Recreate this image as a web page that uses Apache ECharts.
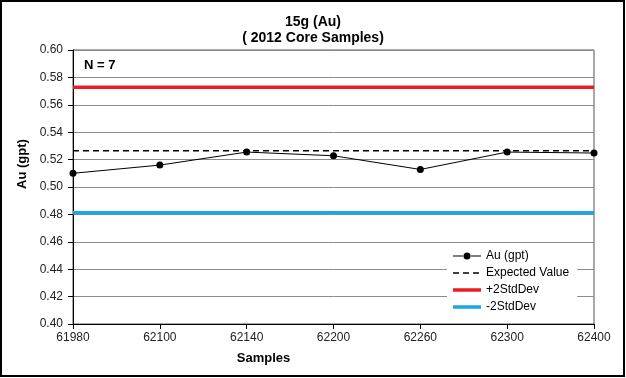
<!DOCTYPE html>
<html>
<head>
<meta charset="utf-8">
<script src="https://cdn.jsdelivr.net/npm/echarts@6/dist/echarts.min.js"></script>
<style>
  html, body { margin: 0; padding: 0; background: #fff; }
  #chart { width: 626px; height: 378px; }
</style>
</head>
<body>
<div id="chart"></div>
<script>
// 样品编号（类别轴）
const samples = ['61980', '62100', '62140', '62200', '62260', '62300', '62400'];
// Au 测量值 (gpt)
const auValues = [0.510, 0.516, 0.5255, 0.5228, 0.5128, 0.5255, 0.5248];
// 期望值与 ±2 标准差
const expectedValue = [0.5265, 0.5265, 0.5265, 0.5265, 0.5265, 0.5265, 0.5265];
const plus2Std = [0.5728, 0.5728, 0.5728, 0.5728, 0.5728, 0.5728, 0.5728];
const minus2Std = [0.4812, 0.4812, 0.4812, 0.4812, 0.4812, 0.4812, 0.4812];

const font = 'Liberation Sans, Arial, sans-serif';
const chart = echarts.init(document.getElementById('chart'));

// 图例图标（线 + 点 / 虚线 / 粗线）
const iconMarkerLine = 'path://M0,5.4h11v1.2h-11z M17,5.4h11v1.2h-11z M10.5,6a3.5,3.5 0 1,0 7,0a3.5,3.5 0 1,0 -7,0z';
const iconDashed = 'path://M0,0h6v1.6h-6z M10,0h6v1.6h-6z M20,0h6v1.6h-6z M28,0h0.01v1.6h-0.01z';
const iconThick = 'path://M0,0h28v3.5h-28z';

const option = {
  animation: false,
  backgroundColor: '#fff',
  textStyle: { fontFamily: font },
  title: {
    text: '15g (Au)\n( 2012 Core Samples)',
    left: 'center',
    top: 9,
    textStyle: { fontFamily: font, fontSize: 14, fontWeight: 'bold', color: '#000', lineHeight: 16 }
  },
  graphic: [
    {
      type: 'rect',
      shape: { x: 1, y: 1, width: 623, height: 375 },
      style: { fill: 'none', stroke: '#000', lineWidth: 2 },
      z: 100
    },
    {
      type: 'text',
      left: 84,
      top: 59,
      style: { text: 'N = 7', font: 'bold 13px ' + font, fill: '#000' },
      z: 100
    }
  ],
  grid: {
    left: 73, right: 32, top: 50, bottom: 54,
    show: true, borderColor: '#555', borderWidth: 1
  },
  legend: {
    orient: 'vertical',
    left: 447,
    top: 247,
    backgroundColor: '#fff',
    padding: [3, 8, 3, 6],
    itemWidth: 28,
    itemHeight: 12,
    itemGap: 5,
    textStyle: { fontFamily: font, fontSize: 12, color: '#000' },
    data: [
      { name: 'Au (gpt)', icon: iconMarkerLine },
      { name: 'Expected Value', icon: iconDashed },
      { name: '+2StdDev', icon: iconThick },
      { name: '-2StdDev', icon: iconThick }
    ]
  },
  xAxis: {
    type: 'category',
    data: samples,
    boundaryGap: false,
    name: 'Samples',
    nameLocation: 'middle',
    nameGap: 28,
    nameTextStyle: { fontFamily: font, fontSize: 13, fontWeight: 'bold', color: '#000', padding: [0, 140, 0, 0] },
    axisLine: { lineStyle: { color: '#000', width: 1 } },
    axisTick: { length: 5, lineStyle: { color: '#000' } },
    axisLabel: { fontFamily: font, fontSize: 12, color: '#222', margin: 8 },
    splitLine: { show: false }
  },
  yAxis: {
    type: 'value',
    min: 0.4,
    max: 0.6,
    interval: 0.02,
    name: 'Au (gpt)',
    nameLocation: 'middle',
    nameGap: 41,
    nameTextStyle: { fontFamily: font, fontSize: 13, fontWeight: 'bold', color: '#000', padding: [0, 0, 0, 46] },
    axisLine: { show: true, lineStyle: { color: '#000', width: 1 } },
    axisTick: { show: true, length: 5, lineStyle: { color: '#000' } },
    axisLabel: { fontFamily: font, fontSize: 12, color: '#222', margin: 10, formatter: v => v.toFixed(2) },
    splitLine: { show: true, lineStyle: { color: '#8c8c8c', width: 1 } }
  },
  series: [
    {
      name: 'Au (gpt)',
      type: 'line',
      data: auValues,
      symbol: 'circle',
      symbolSize: 7,
      itemStyle: { color: '#000' },
      lineStyle: { color: '#000', width: 1 },
      z: 5
    },
    {
      name: 'Expected Value',
      type: 'line',
      data: expectedValue,
      symbol: 'none',
      itemStyle: { color: '#000' },
      lineStyle: { color: '#000', width: 1.5, type: [6, 4] },
      z: 4
    },
    {
      name: '+2StdDev',
      type: 'line',
      data: plus2Std,
      symbol: 'none',
      itemStyle: { color: '#ec1c24' },
      lineStyle: { color: '#ec1c24', width: 3.5 },
      z: 3
    },
    {
      name: '-2StdDev',
      type: 'line',
      data: minus2Std,
      symbol: 'none',
      itemStyle: { color: '#1ea6df' },
      lineStyle: { color: '#1ea6df', width: 3.5 },
      z: 3
    }
  ]
};

chart.setOption(option);
</script>
</body>
</html>
